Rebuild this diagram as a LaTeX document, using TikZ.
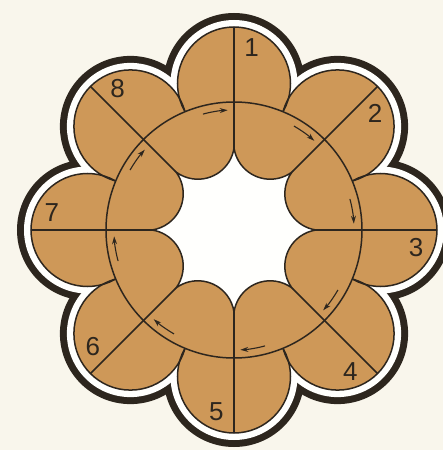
\documentclass[tikz,border=0pt]{standalone}
\usepackage{fontspec}
\setsansfont{Liberation Sans}
\usetikzlibrary{arrows.meta}
\definecolor{flowercolor0001}{RGB}{249,246,236}
\definecolor{flowercolor0002}{RGB}{206,152,88}
\definecolor{flowercolor0003}{RGB}{45,38,30}
\definecolor{flowercolor0004}{RGB}{255,255,253}

\begin{document}
\begin{tikzpicture}[x=1pt,y=1pt
,fstyle0/.style={fill=flowercolor0001}
,fstyle1/.style={fill=flowercolor0003}
,fstyle2/.style={fill=flowercolor0004}
,fstyle3/.style={fill=flowercolor0002}
,fstyle4/.style={color=flowercolor0003,line width=1.5pt}
,fstyle5/.style={color=flowercolor0003,line width=1.1pt,-{Stealth[length=8pt,width=5pt]}}
,fstyle6/.style={color=flowercolor0003,font=\sffamily\fontsize{26}{26}\selectfont,inner sep=0}
]
\fill[fstyle0] (-234,-220) rectangle (209,230);
\useasboundingbox (-234,-220) rectangle (209,230);
\foreach \a in {0,45,...,315} \fill[fstyle1] (\a:146.5) circle (70.5);
\fill[fstyle2] (0,0) circle (150);
\foreach \a in {0,45,...,315} \fill[fstyle2] (\a:146.5) circle (63.5);
\foreach \a in {0,45,...,315} \fill[fstyle3] (\a:146.5) circle (56.5);
\foreach \a in {0,45,...,315} \draw[fstyle4] (\a:146.5) circle (56.5);
\fill[fstyle3] (0,0) circle (128);
\draw[fstyle4] (0,0) circle (128);
\draw[fstyle4,fstyle2,line join=miter] (0:82)
  \foreach \b in {22.5,67.5,...,337.5} {arc[start angle=\b+239,end angle=\b+121,radius=36.6]} -- cycle;
\foreach \a in {0,45,...,315} \draw[fstyle4] (\a:82) -- (\a:203);
\foreach \a in {0,45,...,315} \draw[fstyle5] (\a+15:120) arc[start angle=\a+15,end angle=\a+3,radius=120];
\foreach \n [evaluate=\n as \ang using 90-45*(\n-1)-5.5] in {1,...,8}
  \node[fstyle6] (num\n) at (\ang:183) {\n};
\end{tikzpicture}
\end{document}
